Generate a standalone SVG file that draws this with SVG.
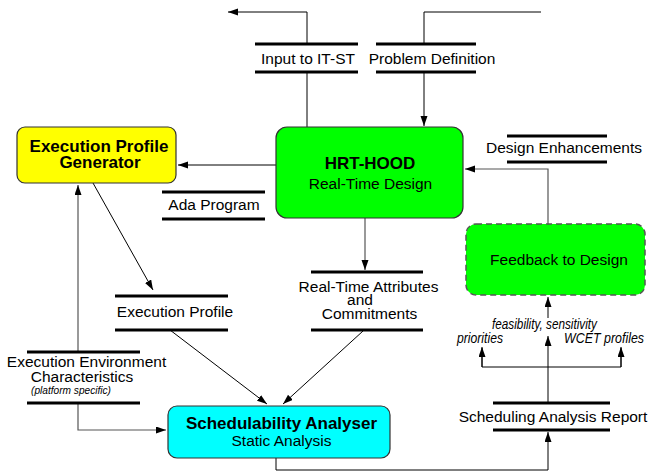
<svg xmlns="http://www.w3.org/2000/svg" width="649" height="473" viewBox="0 0 649 473">
  <style>
    text { font-family: "Liberation Sans", Arial, sans-serif; fill: #000; }
    .lbl { font-size: 15.5px; }
    .hd { font-size: 17px; font-weight: bold; }
    .sub { font-size: 15.5px; }
    .it { font-size: 14px; font-style: italic; }
    .bar { stroke: #000; stroke-width: 3; fill: none; }
    .ln { stroke: #000; stroke-width: 1; fill: none; }
    .gl { stroke: #555; stroke-width: 1.2; fill: none; }
    .box { stroke: #333; stroke-width: 1.2; }
  </style>
  <defs>
    <marker id="ah" markerWidth="11" markerHeight="8" refX="10" refY="3.5" orient="auto" markerUnits="userSpaceOnUse">
      <path d="M0,0 L10,3.5 L0,7 z" fill="#000"/>
    </marker>
  </defs>

  <rect width="649" height="473" fill="#fff"/>

  <!-- connectors -->
  <g id="connectors">
    <polyline class="ln" points="307,44 307,12 228,12" marker-end="url(#ah)"/>
    <line class="ln" x1="307" y1="72" x2="307" y2="127"/>
    <polyline class="ln" points="541,12 424,12 424,44"/>
    <line class="ln" x1="424" y1="72" x2="424" y2="126" marker-end="url(#ah)"/>
    <line class="ln" x1="276" y1="165" x2="178" y2="165" marker-end="url(#ah)"/>
    <line class="ln" x1="93" y1="183" x2="153" y2="290" marker-end="url(#ah)"/>
    <line class="gl" x1="78" y1="352" x2="78" y2="185" marker-end="url(#ah)"/>
    <polyline class="gl" points="78,403 78,430 166,430" marker-end="url(#ah)"/>
    <line class="ln" x1="170" y1="330" x2="267" y2="404" marker-end="url(#ah)"/>
    <line class="gl" x1="365" y1="218" x2="365" y2="270" marker-end="url(#ah)"/>
    <line class="ln" x1="363" y1="331" x2="283" y2="404" marker-end="url(#ah)"/>
    <polyline class="ln" points="276,458 276,470 548,470 548,432" marker-end="url(#ah)"/>
    <line class="ln" x1="548" y1="403" x2="548" y2="336" marker-end="url(#ah)"/>
    <line class="ln" x1="548" y1="318" x2="548" y2="297" marker-end="url(#ah)"/>
    <polyline class="ln" points="482,348 482,367 621,367 621,348"/>
    <line class="ln" x1="482" y1="367" x2="482" y2="347" marker-end="url(#ah)"/>
    <line class="ln" x1="621" y1="367" x2="621" y2="347" marker-end="url(#ah)"/>
    <polyline class="gl" points="548,224 548,169 465,169" marker-end="url(#ah)"/>
  </g>

  <!-- data stores / flows -->
  <g id="input-it-st">
    <line class="bar" x1="255" y1="44" x2="358" y2="44"/>
    <line class="bar" x1="255" y1="72" x2="358" y2="72"/>
    <text class="lbl" x="308" y="64" text-anchor="middle">Input to IT-ST</text>
  </g>
  <g id="problem-definition">
    <line class="bar" x1="376" y1="44" x2="476" y2="44"/>
    <line class="bar" x1="376" y1="72" x2="476" y2="72"/>
    <text class="lbl" x="432" y="64" text-anchor="middle">Problem Definition</text>
  </g>
  <g id="design-enhancements">
    <line class="bar" x1="507" y1="136" x2="607" y2="136"/>
    <line class="bar" x1="507" y1="162" x2="607" y2="162"/>
    <text class="lbl" x="564" y="153" text-anchor="middle">Design Enhancements</text>
  </g>
  <g id="ada-program">
    <line class="bar" x1="162" y1="192" x2="265" y2="192"/>
    <line class="bar" x1="162" y1="219" x2="265" y2="219"/>
    <text class="lbl" x="214" y="210" text-anchor="middle">Ada Program</text>
  </g>
  <g id="execution-profile">
    <line class="bar" x1="115" y1="296" x2="228" y2="296"/>
    <line class="bar" x1="115" y1="330" x2="228" y2="330"/>
    <text class="lbl" x="175" y="317" text-anchor="middle">Execution Profile</text>
  </g>
  <g id="rt-attributes">
    <line class="bar" x1="311" y1="272" x2="423" y2="272"/>
    <line class="bar" x1="311" y1="330" x2="423" y2="330"/>
    <text class="lbl" x="368.5" y="292" text-anchor="middle">Real-Time Attributes</text>
    <text class="lbl" x="360" y="305" text-anchor="middle">and</text>
    <text class="lbl" x="369.5" y="319" text-anchor="middle">Commitments</text>
  </g>
  <g id="exec-environment">
    <line class="bar" x1="27" y1="352" x2="140" y2="352"/>
    <line class="bar" x1="27" y1="403" x2="140" y2="403"/>
    <text class="lbl" x="86.5" y="367" text-anchor="middle">Execution Environment</text>
    <text class="lbl" x="82" y="382" text-anchor="middle">Characteristics</text>
    <text x="31" y="394" font-size="11" font-style="italic" textLength="80" lengthAdjust="spacingAndGlyphs">(platform specific)</text>
  </g>
  <g id="scheduling-report">
    <line class="bar" x1="493" y1="403" x2="610" y2="403"/>
    <line class="bar" x1="493" y1="430" x2="610" y2="430"/>
    <text class="lbl" x="553" y="422" text-anchor="middle">Scheduling Analysis Report</text>
  </g>
  <g id="feedback-labels">
    <text class="it" x="492" y="329" textLength="105" lengthAdjust="spacingAndGlyphs">feasibility, sensitivity</text>
    <text class="it" x="457" y="343" textLength="46" lengthAdjust="spacingAndGlyphs">priorities</text>
    <text class="it" x="564" y="343" textLength="80" lengthAdjust="spacingAndGlyphs">WCET profiles</text>
  </g>

  <!-- process nodes -->
  <g id="hrt-hood">
    <rect class="box" x="276" y="127" width="187" height="91" rx="11" fill="#00ff00"/>
    <text class="hd" x="370" y="169" text-anchor="middle">HRT-HOOD</text>
    <text class="sub" x="370.5" y="189" text-anchor="middle">Real-Time Design</text>
  </g>
  <g id="profile-generator">
    <rect class="box" x="17" y="127" width="159" height="56" rx="8" fill="#ffff00"/>
    <text class="hd" x="99" y="152" text-anchor="middle">Execution Profile</text>
    <text class="hd" x="100" y="168" text-anchor="middle">Generator</text>
  </g>
  <g id="feedback">
    <rect x="466" y="224" width="179" height="71" rx="10" fill="#00ff00" stroke="#555" stroke-width="1.5" stroke-dasharray="6,4"/>
    <text class="sub" x="559" y="265" text-anchor="middle">Feedback to Design</text>
  </g>
  <g id="schedulability-analyser">
    <rect class="box" x="168" y="406" width="222" height="52" rx="9" fill="#00ffff"/>
    <text class="hd" x="281.5" y="429" text-anchor="middle">Schedulability Analyser</text>
    <text class="sub" x="281.5" y="446" text-anchor="middle">Static Analysis</text>
  </g>
</svg>
